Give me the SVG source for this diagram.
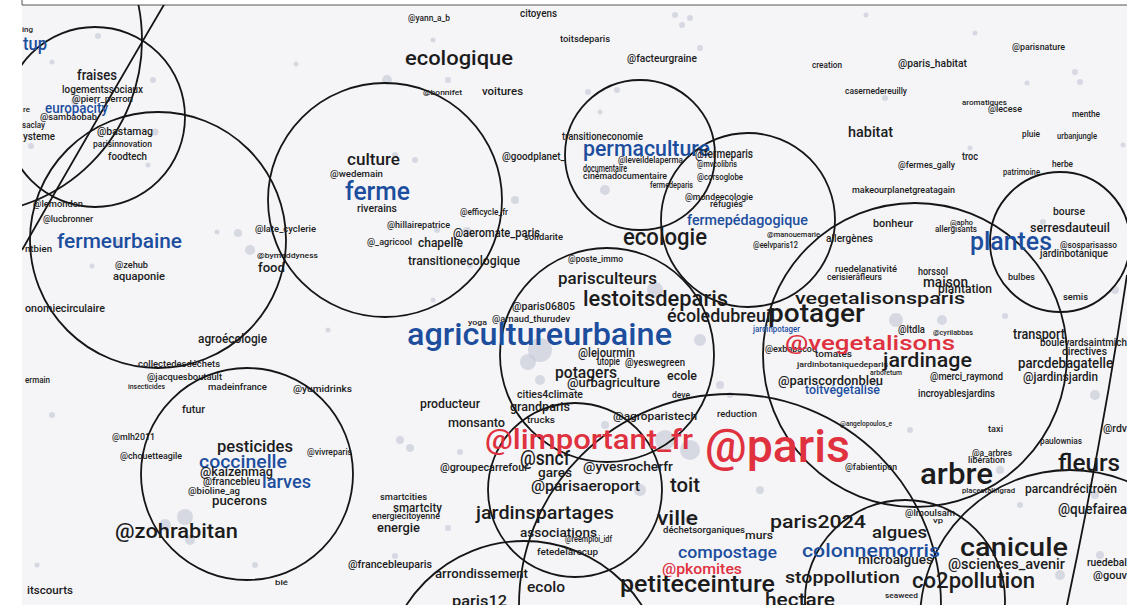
<svg xmlns="http://www.w3.org/2000/svg" width="1127" height="605" viewBox="0 0 1127 605">
<style>
text{font-family:Roboto,"Liberation Sans",sans-serif;font-weight:500;fill:#1c1c1c;}
.b{fill:#1d4e9e;}
.r{fill:#e0313f;}
.c{fill:none;stroke:#151515;stroke-width:1.8;}
.d{fill:#c9ccd8;opacity:0.7;}
</style>
<defs><clipPath id="area"><rect x="22" y="5" width="1105" height="600"/></clipPath></defs>
<rect x="0" y="0" width="1127" height="605" fill="#ffffff"/>
<rect x="22" y="5" width="1105" height="600" fill="#f5f5f8"/>
<path d="M22,0 V5 H1127" fill="none" stroke="#555" stroke-width="1"/>
<g id="dots">
<circle class="d" cx="98" cy="36" r="3"/><circle class="d" cx="52" cy="62" r="2.5"/><circle class="d" cx="153" cy="80" r="3"/><circle class="d" cx="75" cy="101" r="4"/><circle class="d" cx="155" cy="132" r="3.5"/><circle class="d" cx="31" cy="146" r="3"/><circle class="d" cx="148" cy="165" r="2.5"/>
<circle class="d" cx="387" cy="80" r="5"/><circle class="d" cx="296" cy="64" r="2.5"/><circle class="d" cx="433" cy="40" r="2.5"/><circle class="d" cx="448" cy="80" r="3"/><circle class="d" cx="395" cy="155" r="3"/><circle class="d" cx="415" cy="160" r="3"/><circle class="d" cx="515" cy="200" r="4"/><circle class="d" cx="437" cy="230" r="3"/><circle class="d" cx="467" cy="232" r="5"/><circle class="d" cx="470" cy="265" r="3"/>
<circle class="d" cx="675" cy="15" r="3"/><circle class="d" cx="682" cy="25" r="3"/><circle class="d" cx="690" cy="18" r="3"/><circle class="d" cx="700" cy="48" r="3"/><circle class="d" cx="588" cy="92" r="3"/><circle class="d" cx="617" cy="90" r="3"/><circle class="d" cx="605" cy="190" r="5"/><circle class="d" cx="600" cy="112" r="2.5"/>
<circle class="d" cx="866" cy="15" r="2.5"/><circle class="d" cx="975" cy="33" r="2.5"/><circle class="d" cx="1075" cy="72" r="3"/><circle class="d" cx="1080" cy="82" r="3"/><circle class="d" cx="1027" cy="83" r="2.5"/><circle class="d" cx="1123" cy="145" r="2.5"/><circle class="d" cx="885" cy="98" r="3"/><circle class="d" cx="970" cy="148" r="2.5"/>
<circle class="d" cx="238" cy="233" r="4"/><circle class="d" cx="250" cy="250" r="5"/><circle class="d" cx="217" cy="232" r="2.5"/><circle class="d" cx="118" cy="243" r="4"/><circle class="d" cx="92" cy="266" r="2.5"/><circle class="d" cx="328" cy="330" r="2.5"/><circle class="d" cx="433" cy="300" r="2.5"/>
<circle class="d" cx="540" cy="350" r="12"/><circle class="d" cx="528" cy="362" r="8"/><circle class="d" cx="540" cy="380" r="5"/><circle class="d" cx="655" cy="290" r="8"/><circle class="d" cx="700" cy="340" r="6"/><circle class="d" cx="720" cy="385" r="4"/><circle class="d" cx="730" cy="395" r="3"/>
<circle class="d" cx="896" cy="320" r="7"/><circle class="d" cx="942" cy="320" r="5"/><circle class="d" cx="1005" cy="316" r="3"/><circle class="d" cx="1095" cy="395" r="5"/><circle class="d" cx="1115" cy="290" r="4"/><circle class="d" cx="1043" cy="222" r="3"/>
<circle class="d" cx="185" cy="517" r="8"/><circle class="d" cx="165" cy="525" r="6"/><circle class="d" cx="190" cy="540" r="5"/><circle class="d" cx="52" cy="415" r="3"/><circle class="d" cx="255" cy="565" r="3"/><circle class="d" cx="37" cy="565" r="2.5"/>
<circle class="d" cx="400" cy="440" r="4"/><circle class="d" cx="410" cy="448" r="4"/><circle class="d" cx="460" cy="452" r="3"/><circle class="d" cx="448" cy="528" r="3"/><circle class="d" cx="395" cy="556" r="3"/><circle class="d" cx="605" cy="425" r="4"/><circle class="d" cx="665" cy="440" r="10"/><circle class="d" cx="690" cy="450" r="10"/><circle class="d" cx="640" cy="490" r="6"/><circle class="d" cx="690" cy="520" r="5"/><circle class="d" cx="760" cy="490" r="4"/>
<circle class="d" cx="1000" cy="470" r="4"/><circle class="d" cx="1095" cy="495" r="4"/><circle class="d" cx="1100" cy="555" r="4"/><circle class="d" cx="1060" cy="575" r="5"/><circle class="d" cx="910" cy="430" r="3"/><circle class="d" cx="1020" cy="505" r="3"/>
</g>
<g id="circles" clip-path="url(#area)">
<circle class="c" cx="-32" cy="40" r="174"/>
<path class="c" d="M165,3 Q105,105 22,250"/>
<circle class="c" cx="95" cy="117" r="90"/>
<circle class="c" cx="158" cy="240" r="128"/>
<circle class="c" cx="385" cy="200" r="117"/>
<circle class="c" cx="640" cy="155" r="75"/>
<circle class="c" cx="748" cy="220" r="87"/>
<circle class="c" cx="607" cy="355" r="107"/>
<circle class="c" cx="915" cy="355" r="152"/>
<circle class="c" cx="1060" cy="242" r="70"/>
<circle class="c" cx="247" cy="474" r="106"/>
<circle class="c" cx="575" cy="490" r="87"/>
<circle class="c" cx="730" cy="605" r="211"/>
<circle class="c" cx="524" cy="681" r="140"/>
<circle class="c" cx="1070" cy="620" r="150"/>
<circle class="c" cx="905" cy="600" r="100"/>
<path class="c" d="M1127,275 Q1104,430 1067,605"/>
</g>
<g id="labels">
<text x="22" y="32" font-size="8" textLength="11" lengthAdjust="spacingAndGlyphs">ing</text>
<text class="b" x="23" y="50" font-size="18" textLength="24" lengthAdjust="spacingAndGlyphs">tup</text>
<text x="77" y="80" font-size="14" textLength="40" lengthAdjust="spacingAndGlyphs">fraises</text>
<text x="62" y="93" font-size="10" textLength="81" lengthAdjust="spacingAndGlyphs">logementssociaux</text>
<text x="72" y="102" font-size="9" textLength="61" lengthAdjust="spacingAndGlyphs">@pierr_perron</text>
<text class="b" x="45" y="113" font-size="15" textLength="63" lengthAdjust="spacingAndGlyphs">europacity</text>
<text x="23" y="112" font-size="8" textLength="7" lengthAdjust="spacingAndGlyphs">re</text>
<text x="40" y="120" font-size="9.5" textLength="57" lengthAdjust="spacingAndGlyphs">@sambaobab</text>
<text x="22" y="128" font-size="9" textLength="23" lengthAdjust="spacingAndGlyphs">saclay</text>
<text x="23" y="140" font-size="10" textLength="32" lengthAdjust="spacingAndGlyphs">ysteme</text>
<text x="97" y="135" font-size="10" textLength="56" lengthAdjust="spacingAndGlyphs">@bastamag</text>
<text x="93" y="147" font-size="8.5" textLength="59" lengthAdjust="spacingAndGlyphs">parisinnovation</text>
<text x="108" y="160" font-size="10" textLength="39" lengthAdjust="spacingAndGlyphs">foodtech</text>
<text x="408" y="21" font-size="8.5" textLength="42" lengthAdjust="spacingAndGlyphs">@yann_a_b</text>
<text x="520" y="17" font-size="10" textLength="37" lengthAdjust="spacingAndGlyphs">citoyens</text>
<text x="405" y="65" font-size="21" textLength="108" lengthAdjust="spacingAndGlyphs">ecologique</text>
<text x="423" y="95" font-size="8" textLength="39" lengthAdjust="spacingAndGlyphs">@bonnifet</text>
<text x="482" y="95" font-size="11" textLength="41" lengthAdjust="spacingAndGlyphs">voitures</text>
<text x="347" y="165" font-size="16" textLength="53" lengthAdjust="spacingAndGlyphs">culture</text>
<text x="330" y="177" font-size="9" textLength="53" lengthAdjust="spacingAndGlyphs">@wedemain</text>
<text class="b" x="345" y="200" font-size="26" textLength="65" lengthAdjust="spacingAndGlyphs">ferme</text>
<text x="502" y="160" font-size="10" textLength="63" lengthAdjust="spacingAndGlyphs">@goodplanet_</text>
<text x="560" y="42" font-size="9.5" textLength="50" lengthAdjust="spacingAndGlyphs">toitsdeparis</text>
<text x="627" y="62" font-size="10" textLength="70" lengthAdjust="spacingAndGlyphs">@facteurgraine</text>
<text x="812" y="68" font-size="8.5" textLength="30" lengthAdjust="spacingAndGlyphs">creation</text>
<text x="562" y="140" font-size="10" textLength="81" lengthAdjust="spacingAndGlyphs">transitioneconomie</text>
<text class="b" x="583" y="156" font-size="22" textLength="127" lengthAdjust="spacingAndGlyphs">permaculture</text>
<text x="618" y="163" font-size="8.5" textLength="65" lengthAdjust="spacingAndGlyphs">@leveildelaperma</text>
<text x="695" y="158" font-size="13" textLength="58" lengthAdjust="spacingAndGlyphs">@fermeparis</text>
<text x="697" y="167" font-size="9" textLength="40" lengthAdjust="spacingAndGlyphs">@mvcolibris</text>
<text x="583" y="172" font-size="10" textLength="44" lengthAdjust="spacingAndGlyphs">documentaire</text>
<text x="583" y="179" font-size="9" textLength="84" lengthAdjust="spacingAndGlyphs">cinémadocumentaire</text>
<text x="697" y="180" font-size="9" textLength="46" lengthAdjust="spacingAndGlyphs">@corsoglobe</text>
<text x="650" y="188" font-size="9" textLength="43" lengthAdjust="spacingAndGlyphs">fermedeparis</text>
<text x="685" y="200" font-size="9" textLength="68" lengthAdjust="spacingAndGlyphs">@mondeecologie</text>
<text x="710" y="207" font-size="9" textLength="33" lengthAdjust="spacingAndGlyphs">réfugiés</text>
<text x="1012" y="50" font-size="9" textLength="53" lengthAdjust="spacingAndGlyphs">@parisnature</text>
<text x="898" y="67" font-size="10" textLength="69" lengthAdjust="spacingAndGlyphs">@paris_habitat</text>
<text x="845" y="94" font-size="9" textLength="62" lengthAdjust="spacingAndGlyphs">casernedereuilly</text>
<text x="962" y="105" font-size="8" textLength="45" lengthAdjust="spacingAndGlyphs">aromatiques</text>
<text x="988" y="112" font-size="9" textLength="34" lengthAdjust="spacingAndGlyphs">@lecese</text>
<text x="1072" y="117" font-size="8.5" textLength="28" lengthAdjust="spacingAndGlyphs">menthe</text>
<text x="848" y="137" font-size="15" textLength="45" lengthAdjust="spacingAndGlyphs">habitat</text>
<text x="1022" y="137" font-size="9" textLength="18" lengthAdjust="spacingAndGlyphs">pluie</text>
<text x="1057" y="139" font-size="8.5" textLength="40" lengthAdjust="spacingAndGlyphs">urbanjungle</text>
<text x="962" y="160" font-size="10" textLength="16" lengthAdjust="spacingAndGlyphs">troc</text>
<text x="898" y="168" font-size="9" textLength="57" lengthAdjust="spacingAndGlyphs">@fermes_gally</text>
<text x="1052" y="167" font-size="9" textLength="21" lengthAdjust="spacingAndGlyphs">herbe</text>
<text x="1003" y="175" font-size="8.5" textLength="37" lengthAdjust="spacingAndGlyphs">patrimoine</text>
<text x="852" y="193" font-size="9.5" textLength="103" lengthAdjust="spacingAndGlyphs">makeourplanetgreatagain</text>
<text x="33" y="207" font-size="9.5" textLength="50" lengthAdjust="spacingAndGlyphs">@lemonden</text>
<text x="43" y="222" font-size="9" textLength="50" lengthAdjust="spacingAndGlyphs">@lucbronner</text>
<text x="25" y="252" font-size="9.5" textLength="27" lengthAdjust="spacingAndGlyphs">ntbien</text>
<text class="b" x="57" y="248" font-size="20" textLength="125" lengthAdjust="spacingAndGlyphs">fermeurbaine</text>
<text x="115" y="268" font-size="9.5" textLength="33" lengthAdjust="spacingAndGlyphs">@zehub</text>
<text x="113" y="280" font-size="11" textLength="52" lengthAdjust="spacingAndGlyphs">aquaponie</text>
<text x="25" y="312" font-size="10" textLength="80" lengthAdjust="spacingAndGlyphs">onomiecirculaire</text>
<text x="198" y="343" font-size="12" textLength="69" lengthAdjust="spacingAndGlyphs">agroécologie</text>
<text x="138" y="367" font-size="9" textLength="82" lengthAdjust="spacingAndGlyphs">collectedesdéchets</text>
<text x="147" y="380" font-size="9.5" textLength="75" lengthAdjust="spacingAndGlyphs">@jacquesboutault</text>
<text x="25" y="383" font-size="8.5" textLength="25" lengthAdjust="spacingAndGlyphs">ermain</text>
<text x="128" y="389" font-size="7" textLength="37" lengthAdjust="spacingAndGlyphs">insecticides</text>
<text x="208" y="390" font-size="9.5" textLength="59" lengthAdjust="spacingAndGlyphs">madeinfrance</text>
<text x="255" y="232" font-size="8.5" textLength="61" lengthAdjust="spacingAndGlyphs">@late_cyclerie</text>
<text x="257" y="258" font-size="8" textLength="61" lengthAdjust="spacingAndGlyphs">@bymaddyness</text>
<text x="258" y="272" font-size="13" textLength="27" lengthAdjust="spacingAndGlyphs">food</text>
<text x="357" y="212" font-size="10" textLength="40" lengthAdjust="spacingAndGlyphs">riverains</text>
<text x="460" y="215" font-size="8.5" textLength="48" lengthAdjust="spacingAndGlyphs">@efficycle_fr</text>
<text x="387" y="228" font-size="9" textLength="63" lengthAdjust="spacingAndGlyphs">@hillairepatrice</text>
<text x="453" y="237" font-size="12" textLength="87" lengthAdjust="spacingAndGlyphs">@aeromate_paris</text>
<text x="367" y="245" font-size="9" textLength="45" lengthAdjust="spacingAndGlyphs">@_agricool</text>
<text x="418" y="247" font-size="12" textLength="45" lengthAdjust="spacingAndGlyphs">chapelle</text>
<text x="524" y="240" font-size="8.5" textLength="39" lengthAdjust="spacingAndGlyphs">solidarite</text>
<text x="408" y="265" font-size="12" textLength="112" lengthAdjust="spacingAndGlyphs">transitionecologique</text>
<text x="512" y="310" font-size="11" textLength="63" lengthAdjust="spacingAndGlyphs">@paris06805</text>
<text x="468" y="325" font-size="8" textLength="19" lengthAdjust="spacingAndGlyphs">yoga</text>
<text x="492" y="322" font-size="9.5" textLength="78" lengthAdjust="spacingAndGlyphs">@arnaud_thurudev</text>
<text class="b" x="407" y="345" font-size="32" textLength="265" lengthAdjust="spacingAndGlyphs">agricultureurbaine</text>
<text x="293" y="392" font-size="9.5" textLength="59" lengthAdjust="spacingAndGlyphs">@yumidrinks</text>
<text x="420" y="408" font-size="12" textLength="60" lengthAdjust="spacingAndGlyphs">producteur</text>
<text class="b" x="687" y="225" font-size="14" textLength="121" lengthAdjust="spacingAndGlyphs">fermepédagogique</text>
<text x="623" y="245" font-size="24" textLength="84" lengthAdjust="spacingAndGlyphs">ecologie</text>
<text x="767" y="237" font-size="8" textLength="53" lengthAdjust="spacingAndGlyphs">@manouemarie</text>
<text x="753" y="248" font-size="8.5" textLength="45" lengthAdjust="spacingAndGlyphs">@eelvparis12</text>
<text x="826" y="242" font-size="10" textLength="47" lengthAdjust="spacingAndGlyphs">allergènes</text>
<text x="568" y="262" font-size="9" textLength="55" lengthAdjust="spacingAndGlyphs">@poste_immo</text>
<text x="558" y="284" font-size="17" textLength="99" lengthAdjust="spacingAndGlyphs">parisculteurs</text>
<text x="583" y="306" font-size="22" textLength="145" lengthAdjust="spacingAndGlyphs">lestoitsdeparis</text>
<text x="667" y="322" font-size="18" textLength="108" lengthAdjust="spacingAndGlyphs">écoledubreuil</text>
<text x="768" y="322" font-size="26" textLength="97" lengthAdjust="spacingAndGlyphs">potager</text>
<text class="b" x="753" y="332" font-size="9.5" textLength="47" lengthAdjust="spacingAndGlyphs">jardinpotager</text>
<text x="578" y="357" font-size="12" textLength="57" lengthAdjust="spacingAndGlyphs">@lejourmin</text>
<text x="765" y="352" font-size="9" textLength="52" lengthAdjust="spacingAndGlyphs">@exbabacoo</text>
<text x="815" y="357" font-size="9.5" textLength="37" lengthAdjust="spacingAndGlyphs">tomates</text>
<text x="597" y="365" font-size="10" textLength="23" lengthAdjust="spacingAndGlyphs">utopie</text>
<text x="625" y="366" font-size="10" textLength="60" lengthAdjust="spacingAndGlyphs">@yeswegreen</text>
<text x="797" y="367" font-size="7.5" textLength="91" lengthAdjust="spacingAndGlyphs">jardinbotaniquedeparis</text>
<text x="555" y="378" font-size="16" textLength="62" lengthAdjust="spacingAndGlyphs">potagers</text>
<text x="667" y="380" font-size="13" textLength="30" lengthAdjust="spacingAndGlyphs">ecole</text>
<text x="567" y="387" font-size="13" textLength="93" lengthAdjust="spacingAndGlyphs">@urbagriculture</text>
<text x="778" y="385" font-size="13" textLength="105" lengthAdjust="spacingAndGlyphs">@pariscordonbleu</text>
<text x="870" y="375" font-size="8" textLength="32" lengthAdjust="spacingAndGlyphs">arboretum</text>
<text class="b" x="805" y="394" font-size="12" textLength="75" lengthAdjust="spacingAndGlyphs">toitvégétalisé</text>
<text x="517" y="398" font-size="10" textLength="66" lengthAdjust="spacingAndGlyphs">cities4climate</text>
<text x="672" y="398" font-size="9" textLength="18" lengthAdjust="spacingAndGlyphs">deve</text>
<text x="873" y="227" font-size="11" textLength="40" lengthAdjust="spacingAndGlyphs">bonheur</text>
<text x="950" y="225" font-size="7.5" textLength="23" lengthAdjust="spacingAndGlyphs">@apho</text>
<text x="935" y="232" font-size="8.5" textLength="42" lengthAdjust="spacingAndGlyphs">allergisants</text>
<text class="b" x="970" y="250" font-size="26" textLength="82" lengthAdjust="spacingAndGlyphs">plantes</text>
<text x="1030" y="232" font-size="13" textLength="80" lengthAdjust="spacingAndGlyphs">serresdauteuil</text>
<text x="1053" y="215" font-size="10" textLength="32" lengthAdjust="spacingAndGlyphs">bourse</text>
<text x="1060" y="248" font-size="9" textLength="57" lengthAdjust="spacingAndGlyphs">@sosparisasso</text>
<text x="1040" y="257" font-size="10" textLength="68" lengthAdjust="spacingAndGlyphs">jardinbotanique</text>
<text x="835" y="272" font-size="8.5" textLength="62" lengthAdjust="spacingAndGlyphs">ruedelanativité</text>
<text x="827" y="280" font-size="8.5" textLength="55" lengthAdjust="spacingAndGlyphs">cerisierâfleurs</text>
<text x="918" y="275" font-size="10" textLength="30" lengthAdjust="spacingAndGlyphs">horssol</text>
<text x="1008" y="280" font-size="9.5" textLength="27" lengthAdjust="spacingAndGlyphs">bulbes</text>
<text x="923" y="287" font-size="15" textLength="45" lengthAdjust="spacingAndGlyphs">maison</text>
<text x="938" y="293" font-size="12" textLength="54" lengthAdjust="spacingAndGlyphs">plantation</text>
<text x="795" y="304" font-size="17" textLength="170" lengthAdjust="spacingAndGlyphs">vegetalisonsparis</text>
<text x="1063" y="300" font-size="9.5" textLength="25" lengthAdjust="spacingAndGlyphs">semis</text>
<text x="898" y="333" font-size="10" textLength="27" lengthAdjust="spacingAndGlyphs">@ltdla</text>
<text x="933" y="335" font-size="8" textLength="40" lengthAdjust="spacingAndGlyphs">@cyrilabbas</text>
<text class="r" x="785" y="350" font-size="21" textLength="170" lengthAdjust="spacingAndGlyphs">@vegetalisons</text>
<text x="1013" y="339" font-size="14" textLength="52" lengthAdjust="spacingAndGlyphs">transport</text>
<text x="1040" y="346" font-size="11" textLength="87" lengthAdjust="spacingAndGlyphs">boulevardsaintmich</text>
<text x="1062" y="355" font-size="11" textLength="45" lengthAdjust="spacingAndGlyphs">directives</text>
<text x="883" y="367" font-size="21" textLength="89" lengthAdjust="spacingAndGlyphs">jardinage</text>
<text x="1018" y="368" font-size="14" textLength="95" lengthAdjust="spacingAndGlyphs">parcdebagatelle</text>
<text x="930" y="380" font-size="10" textLength="73" lengthAdjust="spacingAndGlyphs">@merci_raymond</text>
<text x="1023" y="381" font-size="13" textLength="75" lengthAdjust="spacingAndGlyphs">@jardinsjardin</text>
<text x="918" y="397" font-size="10" textLength="77" lengthAdjust="spacingAndGlyphs">incroyablesjardins</text>
<text x="182" y="413" font-size="10" textLength="23" lengthAdjust="spacingAndGlyphs">futur</text>
<text x="112" y="440" font-size="8.5" textLength="43" lengthAdjust="spacingAndGlyphs">@mlh2011</text>
<text x="120" y="459" font-size="8.5" textLength="62" lengthAdjust="spacingAndGlyphs">@chouetteagile</text>
<text x="217" y="452" font-size="16" textLength="76" lengthAdjust="spacingAndGlyphs">pesticides</text>
<text class="b" x="199" y="468" font-size="19" textLength="88" lengthAdjust="spacingAndGlyphs">coccinelle</text>
<text x="200" y="476" font-size="12" textLength="73" lengthAdjust="spacingAndGlyphs">@kaizenmag</text>
<text x="203" y="485" font-size="10" textLength="57" lengthAdjust="spacingAndGlyphs">@francebleu</text>
<text class="b" x="262" y="488" font-size="18" textLength="49" lengthAdjust="spacingAndGlyphs">larves</text>
<text x="188" y="494" font-size="9" textLength="52" lengthAdjust="spacingAndGlyphs">@bioline_ag</text>
<text x="212" y="505" font-size="13" textLength="55" lengthAdjust="spacingAndGlyphs">pucerons</text>
<text x="115" y="538" font-size="21" textLength="123" lengthAdjust="spacingAndGlyphs">@zohrabitan</text>
<text x="27" y="594" font-size="11" textLength="46" lengthAdjust="spacingAndGlyphs">itscourts</text>
<text x="275" y="585" font-size="8" textLength="13" lengthAdjust="spacingAndGlyphs">blé</text>
<text x="307" y="455" font-size="8.5" textLength="45" lengthAdjust="spacingAndGlyphs">@vivreparis</text>
<text x="448" y="427" font-size="12" textLength="57" lengthAdjust="spacingAndGlyphs">monsanto</text>
<text x="510" y="411" font-size="12" textLength="60" lengthAdjust="spacingAndGlyphs">grandparis</text>
<text x="527" y="423" font-size="9" textLength="28" lengthAdjust="spacingAndGlyphs">trucks</text>
<text class="r" x="485" y="449" font-size="27" textLength="208" lengthAdjust="spacingAndGlyphs">@limportant_fr</text>
<text x="520" y="465" font-size="20" textLength="50" lengthAdjust="spacingAndGlyphs">@sncf</text>
<text x="440" y="471" font-size="10" textLength="88" lengthAdjust="spacingAndGlyphs">@groupecarrefour</text>
<text x="538" y="477" font-size="12" textLength="34" lengthAdjust="spacingAndGlyphs">gares</text>
<text x="531" y="491" font-size="15" textLength="109" lengthAdjust="spacingAndGlyphs">@parisaeroport</text>
<text x="380" y="500" font-size="9.5" textLength="47" lengthAdjust="spacingAndGlyphs">smartcities</text>
<text x="393" y="512" font-size="12" textLength="49" lengthAdjust="spacingAndGlyphs">smartcity</text>
<text x="372" y="519" font-size="8.5" textLength="68" lengthAdjust="spacingAndGlyphs">energiecitoyenne</text>
<text x="377" y="532" font-size="13" textLength="43" lengthAdjust="spacingAndGlyphs">energie</text>
<text x="476" y="519" font-size="18" textLength="138" lengthAdjust="spacingAndGlyphs">jardinspartages</text>
<text x="520" y="537" font-size="13" textLength="77" lengthAdjust="spacingAndGlyphs">associations</text>
<text x="565" y="542" font-size="9" textLength="47" lengthAdjust="spacingAndGlyphs">@reemploi_idf</text>
<text x="537" y="555" font-size="8.5" textLength="61" lengthAdjust="spacingAndGlyphs">fetedelarecup</text>
<text x="348" y="568" font-size="10" textLength="84" lengthAdjust="spacingAndGlyphs">@francebleuparis</text>
<text x="435" y="578" font-size="13" textLength="93" lengthAdjust="spacingAndGlyphs">arrondissement</text>
<text x="527" y="592" font-size="14" textLength="38" lengthAdjust="spacingAndGlyphs">ecolo</text>
<text x="452" y="606" font-size="15" textLength="55" lengthAdjust="spacingAndGlyphs">paris12</text>
<text x="613" y="420" font-size="11" textLength="84" lengthAdjust="spacingAndGlyphs">@agroparistech</text>
<text x="717" y="417" font-size="9" textLength="40" lengthAdjust="spacingAndGlyphs">reduction</text>
<text class="r" x="705" y="462" font-size="46" textLength="145" lengthAdjust="spacingAndGlyphs">@paris</text>
<text x="583" y="471" font-size="13" textLength="90" lengthAdjust="spacingAndGlyphs">@yvesrocherfr</text>
<text x="670" y="492" font-size="20" textLength="30" lengthAdjust="spacingAndGlyphs">toit</text>
<text x="657" y="525" font-size="20" textLength="41" lengthAdjust="spacingAndGlyphs">ville</text>
<text x="663" y="533" font-size="9.5" textLength="82" lengthAdjust="spacingAndGlyphs">déchetsorganiques</text>
<text x="745" y="539" font-size="11" textLength="28" lengthAdjust="spacingAndGlyphs">murs</text>
<text x="770" y="528" font-size="18" textLength="96" lengthAdjust="spacingAndGlyphs">paris2024</text>
<text class="b" x="678" y="558" font-size="17" textLength="99" lengthAdjust="spacingAndGlyphs">compostage</text>
<text class="r" x="662" y="574" font-size="15" textLength="80" lengthAdjust="spacingAndGlyphs">@pkomites</text>
<text x="620" y="592" font-size="23" textLength="155" lengthAdjust="spacingAndGlyphs">petiteceinture</text>
<text x="785" y="583" font-size="17" textLength="115" lengthAdjust="spacingAndGlyphs">stoppollution</text>
<text class="b" x="802" y="557" font-size="18" textLength="138" lengthAdjust="spacingAndGlyphs">colonnemorris</text>
<text x="765" y="606" font-size="18" textLength="70" lengthAdjust="spacingAndGlyphs">hectare</text>
<text x="840" y="426" font-size="7.5" textLength="52" lengthAdjust="spacingAndGlyphs">@angelopoulos_e</text>
<text x="988" y="432" font-size="9" textLength="15" lengthAdjust="spacingAndGlyphs">taxi</text>
<text x="1103" y="432" font-size="10" textLength="24" lengthAdjust="spacingAndGlyphs">@rdv</text>
<text x="1040" y="444" font-size="9" textLength="42" lengthAdjust="spacingAndGlyphs">paulownias</text>
<text x="845" y="470" font-size="9" textLength="52" lengthAdjust="spacingAndGlyphs">@fabientipon</text>
<text x="972" y="456" font-size="9" textLength="40" lengthAdjust="spacingAndGlyphs">@a_arbres</text>
<text x="968" y="463" font-size="9" textLength="37" lengthAdjust="spacingAndGlyphs">libération</text>
<text x="920" y="484" font-size="30" textLength="73" lengthAdjust="spacingAndGlyphs">arbre</text>
<text x="1058" y="471" font-size="24" textLength="62" lengthAdjust="spacingAndGlyphs">fleurs</text>
<text x="962" y="493" font-size="8" textLength="53" lengthAdjust="spacingAndGlyphs">placestalingrad</text>
<text x="1025" y="493" font-size="13" textLength="92" lengthAdjust="spacingAndGlyphs">parcandrécitroën</text>
<text x="1058" y="514" font-size="14" textLength="69" lengthAdjust="spacingAndGlyphs">@quefairea</text>
<text x="905" y="516" font-size="8.5" textLength="50" lengthAdjust="spacingAndGlyphs">@lmoulsam</text>
<text x="933" y="523" font-size="8" textLength="10" lengthAdjust="spacingAndGlyphs">vp</text>
<text x="872" y="538" font-size="17" textLength="55" lengthAdjust="spacingAndGlyphs">algues</text>
<text x="960" y="556" font-size="26" textLength="108" lengthAdjust="spacingAndGlyphs">canicule</text>
<text x="1087" y="566" font-size="10" textLength="40" lengthAdjust="spacingAndGlyphs">ruedebal</text>
<text x="858" y="564" font-size="12" textLength="75" lengthAdjust="spacingAndGlyphs">microalgues</text>
<text x="948" y="569" font-size="15" textLength="117" lengthAdjust="spacingAndGlyphs">@sciences_avenir</text>
<text x="1093" y="579" font-size="10" textLength="34" lengthAdjust="spacingAndGlyphs">@gouv</text>
<text x="912" y="588" font-size="22" textLength="123" lengthAdjust="spacingAndGlyphs">co2pollution</text>
<text x="885" y="598" font-size="8" textLength="33" lengthAdjust="spacingAndGlyphs">seaweed</text>
</g>
</svg>
